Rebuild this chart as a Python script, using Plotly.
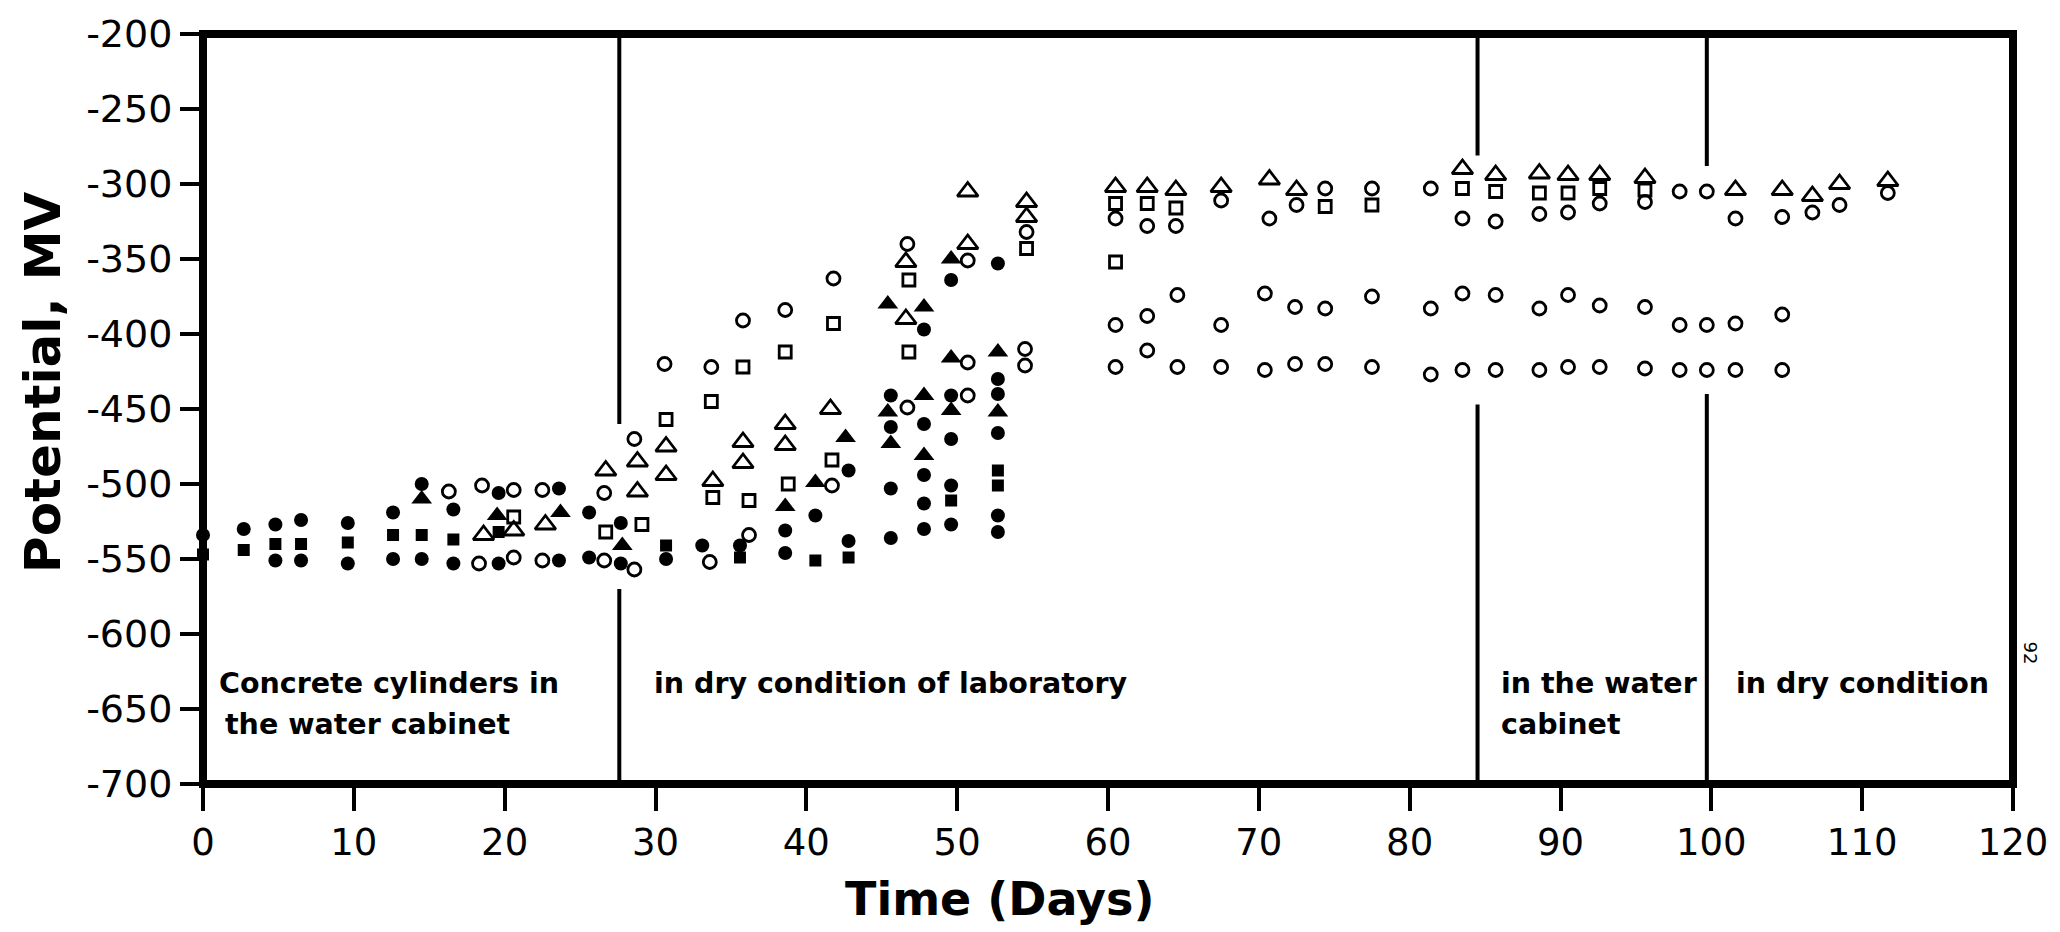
import plotly.graph_objects as go

# ---------------- data ----------------
filled_circle_day = [0, 2.7, 4.8, 4.8, 6.5, 6.5, 9.6, 9.6, 12.6, 12.6, 14.5, 14.5, 16.6, 16.6,
                     19.6, 19.6, 23.6, 23.6, 25.6, 25.6, 27.7, 27.7, 30.7, 33.1, 35.6, 38.6, 38.6,
                     40.6, 42.8, 42.8, 45.6, 45.6, 45.6, 45.6, 47.8, 47.8, 47.8, 47.8, 47.8,
                     49.6, 49.6, 49.6, 49.6, 49.6, 52.7, 52.7, 52.7, 52.7, 52.7, 52.7]
filled_circle_mv = [-534, -530, -527, -551, -524, -551, -526, -553, -519, -550, -500, -550, -517, -553,
                    -506, -553, -503, -551, -519, -549, -526, -553, -550, -541, -541, -531, -546,
                    -521, -491, -538, -441, -462, -503, -536, -397, -460, -494, -513, -530,
                    -364, -441, -470, -501, -527, -353, -430, -440, -466, -521, -532]

filled_square_day = [0, 2.7, 4.8, 6.5, 9.6, 12.6, 14.5, 16.6, 19.6, 30.7, 35.6, 40.6, 42.8,
                     49.6, 52.7, 52.7]
filled_square_mv = [-547, -544, -540, -540, -539, -534, -534, -537, -532, -541, -549, -551, -549,
                    -511, -491, -501]

filled_triangle_day = [14.5, 19.5, 23.7, 27.8, 38.6, 40.6, 42.6, 45.4, 45.4, 45.6, 47.8, 47.8, 47.8,
                       49.6, 49.6, 49.6, 52.7, 52.7]
filled_triangle_mv = [-510, -521, -519, -541, -515, -499, -469, -380, -452, -473, -382, -441, -481,
                      -350, -416, -451, -412, -452]

open_triangle_day = [18.6, 20.6, 22.7, 26.7, 28.8, 28.8, 30.7, 30.7, 33.8, 35.8, 35.8, 38.6, 38.6,
                     41.6, 46.6, 46.6, 50.7, 50.7, 54.6, 54.6,
                     60.5, 62.6, 64.5, 67.5, 70.7, 72.5, 83.5, 85.7, 88.6, 90.5, 92.6, 95.6,
                     101.6, 104.7, 106.7, 108.5, 111.7]
open_triangle_mv = [-534, -531, -527, -491, -485, -505, -475, -494, -498, -472, -486, -460, -474,
                    -450, -352, -390, -305, -340, -312, -322,
                    -302, -302, -304, -302, -297, -304, -290, -294, -293, -294, -294, -296,
                    -304, -304, -308, -300, -298]

open_square_day = [20.6, 26.7, 29.1, 30.7, 33.7, 33.8, 35.8, 36.2, 38.6, 38.8, 41.8, 41.7, 46.8, 46.8,
                   54.6, 60.5, 60.5, 62.6, 64.5, 74.4, 77.5, 83.5, 85.7, 88.6, 90.5, 92.6, 95.6]
open_square_mv = [-522, -532, -527, -457, -445, -509, -422, -511, -412, -500, -393, -484, -364, -412,
                  -343, -313, -352, -313, -316, -315, -314, -303, -305, -306, -306, -303, -304]

open_circle_day = [16.3, 18.5, 18.3, 20.6, 20.6, 22.5, 22.5, 26.6, 26.6, 28.6, 28.6, 30.6, 33.7, 33.6,
                   35.8, 36.2, 38.6, 41.7, 41.8, 46.7, 46.7, 50.7, 50.7, 50.7, 54.6, 54.5, 54.5,
                   # upper band after day 60
                   60.5, 62.6, 64.5, 67.5, 70.7, 72.5, 74.4, 77.5, 81.4, 83.5, 85.7, 88.6, 90.5,
                   92.6, 95.6, 97.9, 99.7, 101.6, 104.7, 106.7, 108.5, 111.7,
                   # middle band
                   60.5, 62.6, 64.6, 67.5, 70.4, 72.4, 74.4, 77.5, 81.4, 83.5, 85.7, 88.6, 90.5,
                   92.6, 95.6, 97.9, 99.7, 101.6, 104.7,
                   # lower band
                   60.5, 62.6, 64.6, 67.5, 70.4, 72.4, 74.4, 77.5, 81.4, 83.5, 85.7, 88.6, 90.5,
                   92.6, 95.6, 97.9, 99.7, 101.6, 104.7]
open_circle_mv = [-505, -501, -553, -504, -549, -504, -551, -506, -551, -470, -557, -420, -422, -552,
                  -391, -534, -384, -501, -363, -340, -449, -351, -419, -441, -332, -410, -421,
                  -323, -328, -328, -311, -323, -314, -303, -303, -303, -323, -325, -320, -319,
                  -313, -312, -305, -305, -323, -322, -319, -314, -306,
                  -394, -388, -374, -394, -373, -382, -383, -375, -383, -373, -374, -383, -374,
                  -381, -382, -394, -394, -393, -387,
                  -422, -411, -422, -422, -424, -420, -420, -422, -427, -424, -424, -424, -422,
                  -422, -423, -424, -424, -424, -424]

# phase boundaries (vertical lines, interrupted where the data are)
phase_day = [27.6, 84.5, 99.7]
phase_gap_top = [-460, -281, -288]
phase_gap_bottom = [-570, -447, -440]

phase_labels = ["Concrete cylinders in", "the water cabinet", "in dry condition of laboratory",
                "in the water", "cabinet", "in dry condition"]
phase_label_day = [0.9, 1.3, 29.8, 85.9, 85.9, 101.5]
phase_label_mv = [-633, -660, -633, -633, -660, -633]

x_ticks = [0, 10, 20, 30, 40, 50, 60, 70, 80, 90, 100, 110, 120]
y_ticks = [-200, -250, -300, -350, -400, -450, -500, -550, -600, -650, -700]
y_tick_text = [str(v).replace("\u2212", "-") for v in y_ticks]

FONT = "DejaVu Sans"
INK = "black"

fig = go.Figure()

def add(days, mvs, symbol, size, open_=False):
    marker = dict(symbol=symbol, size=size, color=INK)
    if open_:
        marker["line"] = dict(color=INK, width=2.8)
    else:
        marker["line"] = dict(color=INK, width=0)
    fig.add_trace(go.Scatter(x=days, y=mvs, mode="markers", marker=marker,
                             showlegend=False, cliponaxis=False, hoverinfo="x+y"))

add(filled_circle_day, filled_circle_mv, "circle", 14)
add(filled_square_day, filled_square_mv, "square", 12)
add(filled_triangle_day, filled_triangle_mv, "triangle-up", 18)
add(open_triangle_day, open_triangle_mv, "triangle-up-open", 18, True)
add(open_square_day, open_square_mv, "square-open", 12, True)
add(open_circle_day, open_circle_mv, "circle-open", 13, True)

shapes = [dict(type="rect", xref="paper", yref="paper", x0=0, x1=1, y0=0, y1=1,
               line=dict(color=INK, width=8), layer="above")]
for d, gt, gb in zip(phase_day, phase_gap_top, phase_gap_bottom):
    shapes.append(dict(type="line", xref="x", yref="y", x0=d, x1=d, y0=-200, y1=gt,
                       line=dict(color=INK, width=4)))
    shapes.append(dict(type="line", xref="x", yref="y", x0=d, x1=d, y0=gb, y1=-700,
                       line=dict(color=INK, width=4)))

annotations = []
for t, d, v in zip(phase_labels, phase_label_day, phase_label_mv):
    annotations.append(dict(x=d, y=v, xref="x", yref="y", text=t, showarrow=False,
                            xanchor="left", yanchor="middle",
                            font=dict(family=FONT, size=28.5, color=INK, weight="bold")))
annotations.append(dict(x=-0.0883, y=0.535, xref="paper", yref="paper", text="Potential, MV",
                        showarrow=False, textangle=-90, xanchor="center", yanchor="middle",
                        font=dict(family=FONT, size=50, color=INK, weight="bold")))
annotations.append(dict(x=0.4404, y=-0.154, xref="paper", yref="paper", text="Time (Days)",
                        showarrow=False, xanchor="center", yanchor="middle",
                        font=dict(family=FONT, size=46, color=INK, weight="bold")))
annotations.append(dict(x=1.0099, y=0.174, xref="paper", yref="paper", text="92",
                        showarrow=False, textangle=90, xanchor="center", yanchor="middle",
                        font=dict(family=FONT, size=18, color=INK)))

fig.update_layout(
    width=2060, height=932,
    margin=dict(l=203, r=45, t=25, b=148),
    paper_bgcolor="white", plot_bgcolor="white",
    shapes=shapes, annotations=annotations,
    xaxis=dict(range=[0, 120], tickvals=x_ticks, ticktext=[str(v) for v in x_ticks],
               ticks="outside", ticklen=26, tickwidth=4, tickcolor=INK,
               showgrid=False, zeroline=False, showline=False,
               tickfont=dict(family=FONT, size=37, color=INK)),
    yaxis=dict(range=[-700, -200], tickvals=y_ticks, ticktext=y_tick_text,
               ticks="outside", ticklen=22, tickwidth=4, tickcolor=INK,
               showgrid=False, zeroline=False, showline=False,
               tickfont=dict(family=FONT, size=38, color=INK)),
)

fig.write_html("out.html")
